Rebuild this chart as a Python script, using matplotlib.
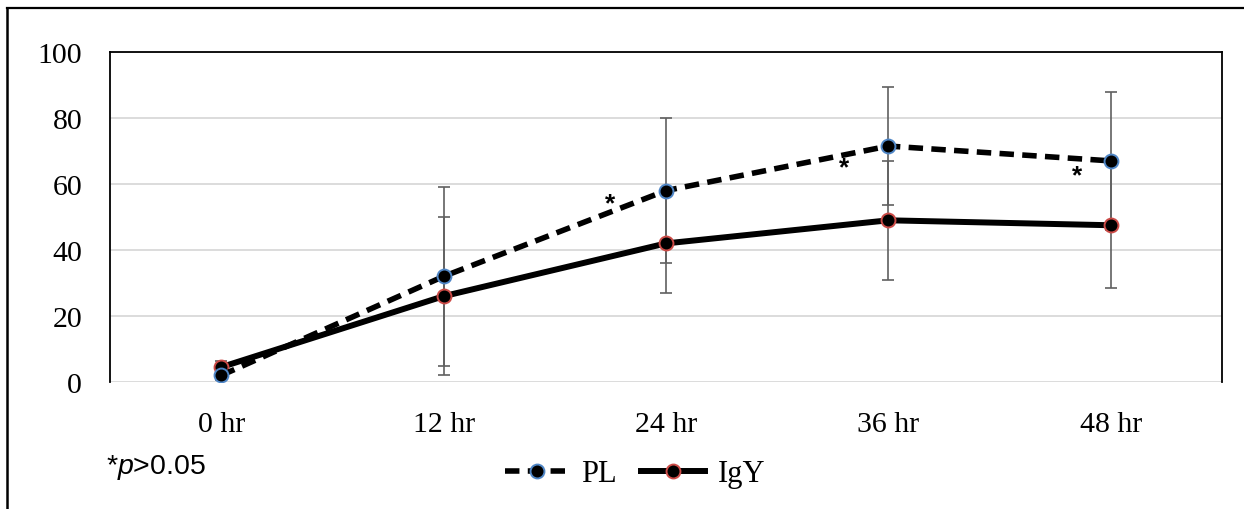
import matplotlib
matplotlib.use("Agg")
import matplotlib.pyplot as plt
from matplotlib.lines import Line2D

categories = ["0 hr", "12 hr", "24 hr", "36 hr", "48 hr"]
pl_values = [2, 32, 58, 71.5, 67]
pl_errors = [1.5, 27, 22, 18, 21]
igy_values = [4.5, 26, 42, 49, 47.5]
igy_errors = [2, 24, 15, 18, 19]
star_x = [1.75, 2.8, 3.85]
star_y = [54, 65, 62.5]
y_ticks = [0, 20, 40, 60, 80, 100]

plt.rcParams['mathtext.fontset'] = 'custom'
plt.rcParams['mathtext.rm'] = 'Liberation Sans'
plt.rcParams['mathtext.it'] = 'Liberation Sans:italic'

fig = plt.figure(figsize=(12.44, 5.10), dpi=100)
ax = fig.add_axes([110/1244, 1-383/510, (1222-110)/1244, (383-53)/510])

x = list(range(len(categories)))
ax.set_xlim(-0.5, len(categories) - 0.5)
ax.set_ylim(0, 100)

ax.set_yticks(y_ticks)
ax.yaxis.grid(True, color='#d9d9d9', linewidth=1.3, zorder=0)
ax.set_axisbelow(True)

err_kw = dict(fmt='none', ecolor='#606060', elinewidth=1.2, capsize=4.5, capthick=1.2, zorder=2)
ax.errorbar(x, pl_values, yerr=pl_errors, **err_kw)
ax.errorbar(x, igy_values, yerr=igy_errors, **err_kw)

ax.plot(x, pl_values, color='black', linewidth=4, linestyle=(0, (2.6, 1.5)),
        marker='o', markersize=10, markerfacecolor='black', markeredgecolor='#4f86c6',
        markeredgewidth=1.4, zorder=4, label='PL')
ax.plot(x, igy_values, color='black', linewidth=4.3, linestyle='-',
        marker='o', markersize=10, markerfacecolor='black', markeredgecolor='#cc4b47',
        markeredgewidth=1.4, zorder=3, label='IgY')

for sx, sy in zip(star_x, star_y):
    ax.text(sx, sy, '*', ha='center', va='center', fontsize=19, fontweight='bold',
            family='Liberation Sans', zorder=5)

ax.set_xticks(x)
ax.set_xticklabels(categories)
for lab in ax.get_xticklabels() + ax.get_yticklabels():
    lab.set_family('Liberation Serif')
    lab.set_fontsize(21.5)
ax.tick_params(axis='x', length=0, pad=21)
ax.tick_params(axis='y', length=0, pad=20)

for side in ['left', 'top', 'right']:
    ax.spines[side].set_color('black')
    ax.spines[side].set_linewidth(1.3)
ax.spines['bottom'].set_visible(False)

fig.legend(loc='center', bbox_to_anchor=(635/1244, 1-475/510), ncol=2, frameon=False,
           prop={'family': 'Liberation Serif', 'size': 22}, handlelength=2.1,
           handletextpad=0.4, columnspacing=0.8, borderaxespad=0)

fig.text(106/1244, 1-474/510, r'*$\mathit{p}$>0.05', family='Liberation Sans',
         fontsize=20.5, ha='left', va='baseline')

# outer chart border (top and left visible)
fig.add_artist(Line2D([7/1244, 1.0], [1-9/510, 1-9/510], color='black', linewidth=1.6,
                      transform=fig.transFigure))
fig.add_artist(Line2D([7/1244, 7/1244], [0, 1-9/510], color='black', linewidth=1.8,
                      transform=fig.transFigure))

fig.savefig('out.png', dpi=100)
